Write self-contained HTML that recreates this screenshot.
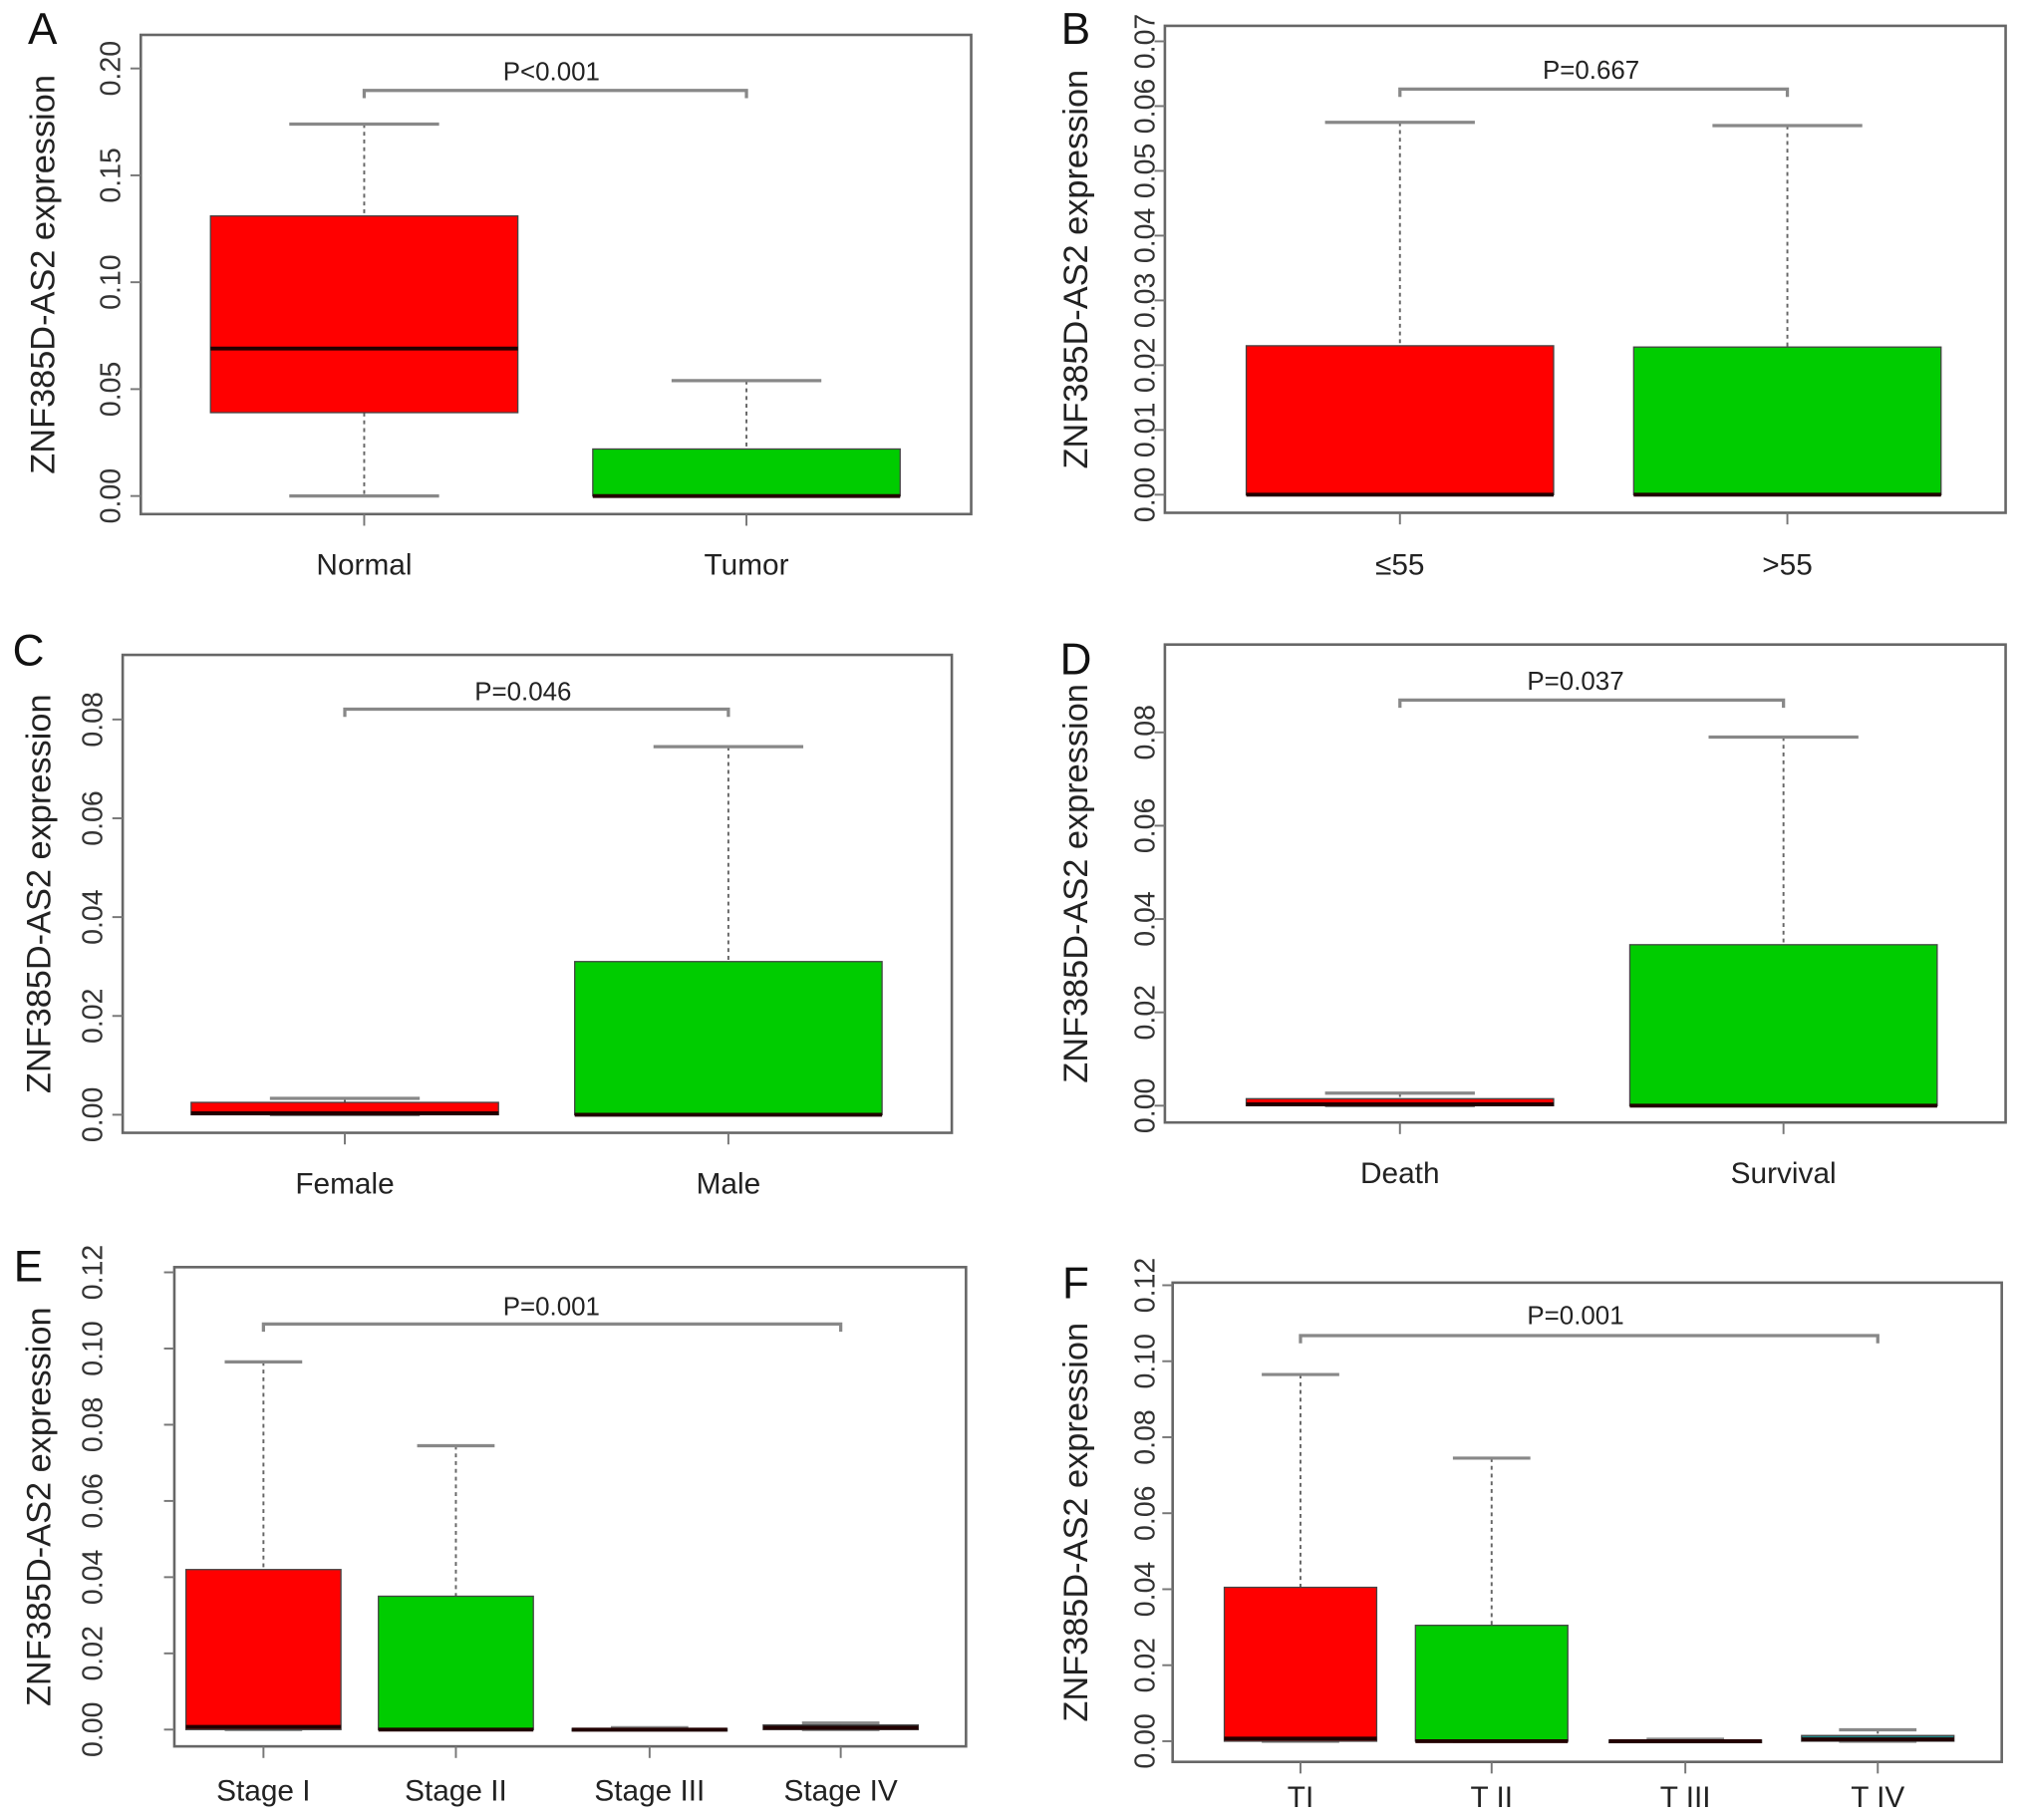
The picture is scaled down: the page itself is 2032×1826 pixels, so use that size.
<!DOCTYPE html>
<html><head><meta charset="utf-8"><style>
html,body{margin:0;padding:0;background:#fff;}
svg{display:block;}
text{font-family:"Liberation Sans",sans-serif;}
</style></head>
<body>
<svg id="fig" width="2032" height="1826" viewBox="0 0 1568 1409" preserveAspectRatio="none" xmlns="http://www.w3.org/2000/svg"></svg>
<script>
// ---- data (values per panel) ----
const catsA = ["Normal","Tumor"];
const lowA = [0, 0], q1A = [0.039, 0], medA = [0.069, 0], q3A = [0.131, 0.022], highA = [0.174, 0.054];
const ticksA = ["0.00","0.05","0.10","0.15","0.20"];
const pA = "P<0.001";

const catsB = ["≤55",">55"];
const lowB = [0, 0], q1B = [0, 0], medB = [0, 0], q3B = [0.023, 0.0228], highB = [0.0575, 0.057];
const ticksB = ["0.00","0.01","0.02","0.03","0.04","0.05","0.06","0.07"];
const pB = "P=0.667";

const catsC = ["Female","Male"];
const lowC = [0, 0], q1C = [0, 0], medC = [0.0003, 0], q3C = [0.0025, 0.031], highC = [0.0033, 0.0745];
const ticksC = ["0.00","0.02","0.04","0.06","0.08"];
const pC = "P=0.046";

const catsD = ["Death","Survival"];
const lowD = [0, 0], q1D = [0, 0], medD = [0.0003, 0], q3D = [0.0015, 0.0345], highD = [0.0027, 0.079];
const ticksD = ["0.00","0.02","0.04","0.06","0.08"];
const pD = "P=0.037";

const catsE = ["Stage I","Stage II","Stage III","Stage IV"];
const lowE = [0, 0, 0, 0], q1E = [0, 0, 0, 0], medE = [0.0007, 0, 0, 0.0005], q3E = [0.042, 0.035, 0.0003, 0.0012], highE = [0.0965, 0.0745, 0.0005, 0.0017];
const ticksE = ["0.00","0.02","0.04","0.06","0.08","0.10","0.12"];
const pE = "P=0.001";

const catsF = ["TI","T II","T III","T IV"];
const lowF = [0, 0, 0, 0], q1F = [0, 0, 0, 0], medF = [0.0007, 0, 0, 0.0005], q3F = [0.0405, 0.0305, 0.0003, 0.0015], highF = [0.0965, 0.0745, 0.0005, 0.003];
const ticksF = ["0.00","0.02","0.04","0.06","0.08","0.10","0.12"];
const pF = "P=0.001";

// ---- layout (display coords) ----
const colors = ["#ff0000","#00cc00","#2a2a2a","#1f8a8a"];
const panels = [
 {id:"a",letter:"A",lx:33,ly:22,box:[109,27,752,398],y0:384,yTop:53,vTop:0.20,ticks:ticksA,tickX:86,titleX:33,xs:[282,578],bw:119,cw:58,brY:70,pX:427,pY:55,labY:437,cats:catsA,low:lowA,q1:q1A,med:medA,q3:q3A,high:highA,p:pA},
 {id:"b",letter:"B",lx:833,ly:22,box:[902,20,1553,397],y0:383,yTop:32,vTop:0.07,ticks:ticksB,tickX:887,titleX:833,xs:[1084,1384],bw:119,cw:58,brY:69,pX:1232,pY:54,labY:437,cats:catsB,low:lowB,q1:q1B,med:medB,q3:q3B,high:highB,p:pB},
 {id:"c",letter:"C",lx:22,ly:503,box:[95,507,737,877],y0:863,yTop:557,vTop:0.08,ticks:ticksC,tickX:72,titleX:30,xs:[267,564],bw:119,cw:58,brY:549,pX:405,pY:535,labY:916,cats:catsC,low:lowC,q1:q1C,med:medC,q3:q3C,high:highC,p:pC},
 {id:"d",letter:"D",lx:833,ly:510,box:[902,499,1553,869],y0:856,yTop:567,vTop:0.08,ticks:ticksD,tickX:887,titleX:833,xs:[1084,1381],bw:119,cw:58,brY:542,pX:1220,pY:527,labY:908,cats:catsD,low:lowD,q1:q1D,med:medD,q3:q3D,high:highD,p:pD},
 {id:"e",letter:"E",lx:22,ly:980,box:[135,981,748,1352],y0:1339,yTop:985,vTop:0.12,ticks:ticksE,tickX:72,titleX:30,xs:[204,353,503,651],bw:60,cw:30,brY:1025,pX:427,pY:1011,labY:1386,cats:catsE,low:lowE,q1:q1E,med:medE,q3:q3E,high:highE,p:pE},
 {id:"f",letter:"F",lx:833,ly:993,box:[908,993,1550,1364],y0:1348,yTop:995,vTop:0.12,ticks:ticksF,tickX:887,titleX:833,xs:[1007,1155,1305,1454],bw:59,cw:30,brY:1034,pX:1220,pY:1018,labY:1391,cats:catsF,low:lowF,q1:q1F,med:medF,q3:q3F,high:highF,p:pF}
];

const NS="http://www.w3.org/2000/svg";
const svg=document.getElementById("fig");
function mk(tag,attrs,parent){const e=document.createElementNS(NS,tag);for(const k in attrs)e.setAttribute(k,attrs[k]);(parent||svg).appendChild(e);return e;}

panels.forEach(P=>{
  const g=mk("g",{});
  
  
  const yS=v=>P.y0-(v/P.vTop)*(P.y0-P.yTop);
  const [bx0,by0,bx1,by1]=P.box;
  const cy=(by0+by1)/2;
  const lt=mk("text",{x:P.lx,y:P.ly+12,"font-size":34,"text-anchor":"middle",fill:"#111"},g);
  lt.textContent=P.letter;
  
  
  const fr=mk("rect",{x:bx0,y:by0,width:bx1-bx0,height:by1-by0,fill:"none",stroke:"#666","stroke-width":2},g);
  
  
  const ti=mk("text",{transform:`translate(${P.titleX+9},${cy}) rotate(-90)`,"font-size":26.5,"text-anchor":"middle",fill:"#222"},g);
  ti.textContent="ZNF385D-AS2 expression";
  
  
  const n=P.ticks.length;
  P.ticks.forEach((t,i)=>{
    const v=P.vTop*i/(n-1), y=yS(v);
    mk("line",{x1:bx0-8,x2:bx0,y1:y,y2:y,stroke:"#777","stroke-width":1.5},g);
    const tt=mk("text",{transform:`translate(${P.tickX+7},${y}) rotate(-90)`,"font-size":22,"text-anchor":"middle",fill:"#333"},g);
    tt.textContent=t;
    
    
  });
  P.cats.forEach((c,i)=>{
    const x=P.xs[i];
    mk("line",{x1:x,x2:x,y1:by1,y2:by1+9,stroke:"#777","stroke-width":1.5},g);
    const cl=mk("text",{x:x,y:P.labY+8,"font-size":23,"text-anchor":"middle",fill:"#222"},g);
    cl.textContent=c;
    
    
    const col=colors[i];
    const wh=mk("line",{x1:x,x2:x,y1:yS(P.high[i]),y2:yS(P.q3[i]),stroke:"#666","stroke-width":1.5,"stroke-dasharray":"3,3"},g);
    
    
    if(P.q1[i]>P.low[i]){
      const wl=mk("line",{x1:x,x2:x,y1:yS(P.q1[i]),y2:yS(P.low[i]),stroke:"#666","stroke-width":1.5,"stroke-dasharray":"3,3"},g);
      
      
    }
    const cap=mk("line",{x1:x-P.cw,x2:x+P.cw,y1:yS(P.high[i]),y2:yS(P.high[i]),stroke:"#888","stroke-width":2.5},g);
    
    
    const capl=mk("line",{x1:x-P.cw,x2:x+P.cw,y1:yS(P.low[i]),y2:yS(P.low[i]),stroke:"#888","stroke-width":2.5},g);
    
    
    const h=Math.max(yS(P.q1[i])-yS(P.q3[i]),2);
    const b=mk("rect",{x:x-P.bw,y:yS(P.q3[i]),width:2*P.bw,height:h,fill:col,stroke:"#444","stroke-width":1},g);
    
    
    const md=mk("line",{x1:x-P.bw,x2:x+P.bw,y1:yS(P.med[i]),y2:yS(P.med[i]),stroke:"#200","stroke-width":3},g);
    
    
  });
  const xa=P.xs[0], xb=P.xs[P.xs.length-1];
  const br=mk("path",{d:`M${xa},${P.brY+6} L${xa},${P.brY} L${xb},${P.brY} L${xb},${P.brY+6}`,fill:"none",stroke:"#888","stroke-width":2.5},g);
  
  
  const pt=mk("text",{x:P.pX,y:P.pY+7,"font-size":20,"text-anchor":"middle",fill:"#222"},g);
  pt.textContent=P.p;
  
  
});
</script>
</body></html>
